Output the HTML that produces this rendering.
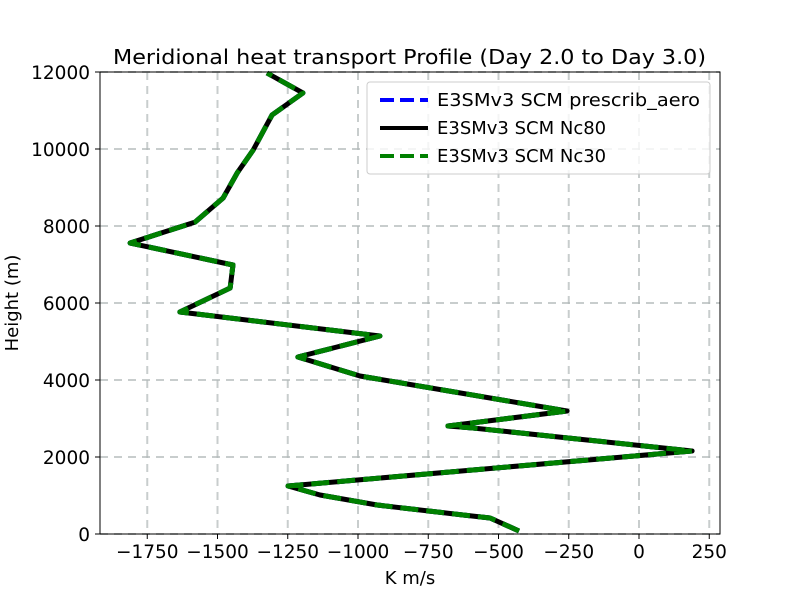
<!DOCTYPE html>
<html><head><meta charset="utf-8"><style>
body{margin:0;background:#fff;}
svg text{font-family:"DejaVu Sans","Liberation Sans",sans-serif;fill:#000;}
</style></head><body>
<svg id="chart" width="800" height="600" xmlns="http://www.w3.org/2000/svg">
<rect width="800" height="600" fill="#fff"/>
<g id="grid"></g>
<g id="series"></g>
<rect x="100" y="72" width="620" height="462" fill="none" stroke="#000" stroke-width="1"/>
<g id="axes"></g>
<text x="113" y="64" font-size="20" textLength="593" lengthAdjust="spacingAndGlyphs">Meridional heat transport Profile (Day 2.0 to Day 3.0)</text>
<text x="410" y="584" font-size="18" text-anchor="middle">K m/s</text>
<text transform="translate(18,303) rotate(-90)" font-size="18" text-anchor="middle">Height (m)</text>
<g>
<rect x="367" y="82" width="343" height="92" rx="3" fill="#fff" fill-opacity="0.8" stroke="#ccc"/>
<line x1="380" y1="100" x2="428" y2="100" stroke="#0000ff" stroke-width="4" stroke-dasharray="14,6"/>
<text x="437" y="106" font-size="18" textLength="263" lengthAdjust="spacingAndGlyphs">E3SMv3 SCM prescrib_aero</text>
<line x1="380" y1="128" x2="428" y2="128" stroke="#000" stroke-width="4"/>
<text x="437" y="134" font-size="18">E3SMv3 SCM Nc80</text>
<line x1="380" y1="156" x2="428" y2="156" stroke="#008000" stroke-width="4" stroke-dasharray="14,6"/>
<text x="437" y="162" font-size="18">E3SMv3 SCM Nc30</text>
</g>
</svg>
<script>
const heights=[78,416,494,753,1013,1247,2156,2753,2805,3195,4104,4597,5143,5766,6390,6987,7558,8100,8727,9377,9974,10883,11455,11974];
const prescribAero=[-427,-530,-626,-932,-1135,-1249,189,-591,-680,-256,-993,-1214,-922,-1634,-1455,-1445,-1811,-1580,-1480,-1430,-1373,-1306,-1196,-1324];
const nc80=[-427,-530,-626,-932,-1135,-1249,189,-591,-680,-256,-993,-1214,-922,-1634,-1455,-1445,-1811,-1580,-1480,-1430,-1373,-1306,-1196,-1324];
const nc30=[-427,-530,-626,-932,-1135,-1249,189,-591,-680,-256,-993,-1214,-922,-1634,-1455,-1445,-1811,-1580,-1480,-1430,-1373,-1306,-1196,-1324];
const xTicks=[-1750,-1500,-1250,-1000,-750,-500,-250,0,250];
const yTicks=[0,2000,4000,6000,8000,10000,12000];
const NS="http://www.w3.org/2000/svg";
function sx(v){return 639+(v/250)*70.25;}
function sy(v){return 534-(v/2000)*77;}
function mk(t,a,p){const e=document.createElementNS(NS,t);for(const k in a)e.setAttribute(k,a[k]);p.appendChild(e);return e;}
const grid=document.getElementById('grid'),axes=document.getElementById('axes'),ser=document.getElementById('series');
xTicks.forEach(v=>{
 const g=mk('line',{x1:sx(v),x2:sx(v),y1:72,y2:534,stroke:'#b0b8b8','stroke-width':2,'stroke-dasharray':'8,6','stroke-opacity':0.7},grid);
 
 
 mk('line',{x1:sx(v),x2:sx(v),y1:534,y2:539,stroke:'#000'},axes);
 const t=mk('text',{x:sx(v),y:558,'font-size':18.5,'text-anchor':'middle'},axes);
 
 
 t.textContent=v<0?'\u2212'+Math.abs(v):String(v);
});
yTicks.forEach(v=>{
 const g=mk('line',{x1:100,x2:720,y1:sy(v),y2:sy(v),stroke:'#b0b8b8','stroke-width':2,'stroke-dasharray':'8,6','stroke-opacity':0.7},grid);
 
 
 mk('line',{x1:95,x2:100,y1:sy(v),y2:sy(v),stroke:'#000'},axes);
 const t=mk('text',{x:90,y:sy(v)+7,'font-size':18.5,'text-anchor':'end'},axes);
 
 
 t.textContent=String(v);
});
function pts(arr){return arr.map((v,i)=>sx(v)+','+sy(heights[i])).join(' ');}
const l1=mk('polyline',{points:pts(prescribAero),fill:'none',stroke:'#0000ff','stroke-width':5,'stroke-dasharray':'18,8','stroke-linejoin':'round'},ser);


const l2=mk('polyline',{points:pts(nc80),fill:'none',stroke:'#000','stroke-width':5,'stroke-linejoin':'round'},ser);


const l3=mk('polyline',{points:pts(nc30),fill:'none',stroke:'#008000','stroke-width':5,'stroke-dasharray':'18,8','stroke-linejoin':'round'},ser);


</script>
</body></html>
